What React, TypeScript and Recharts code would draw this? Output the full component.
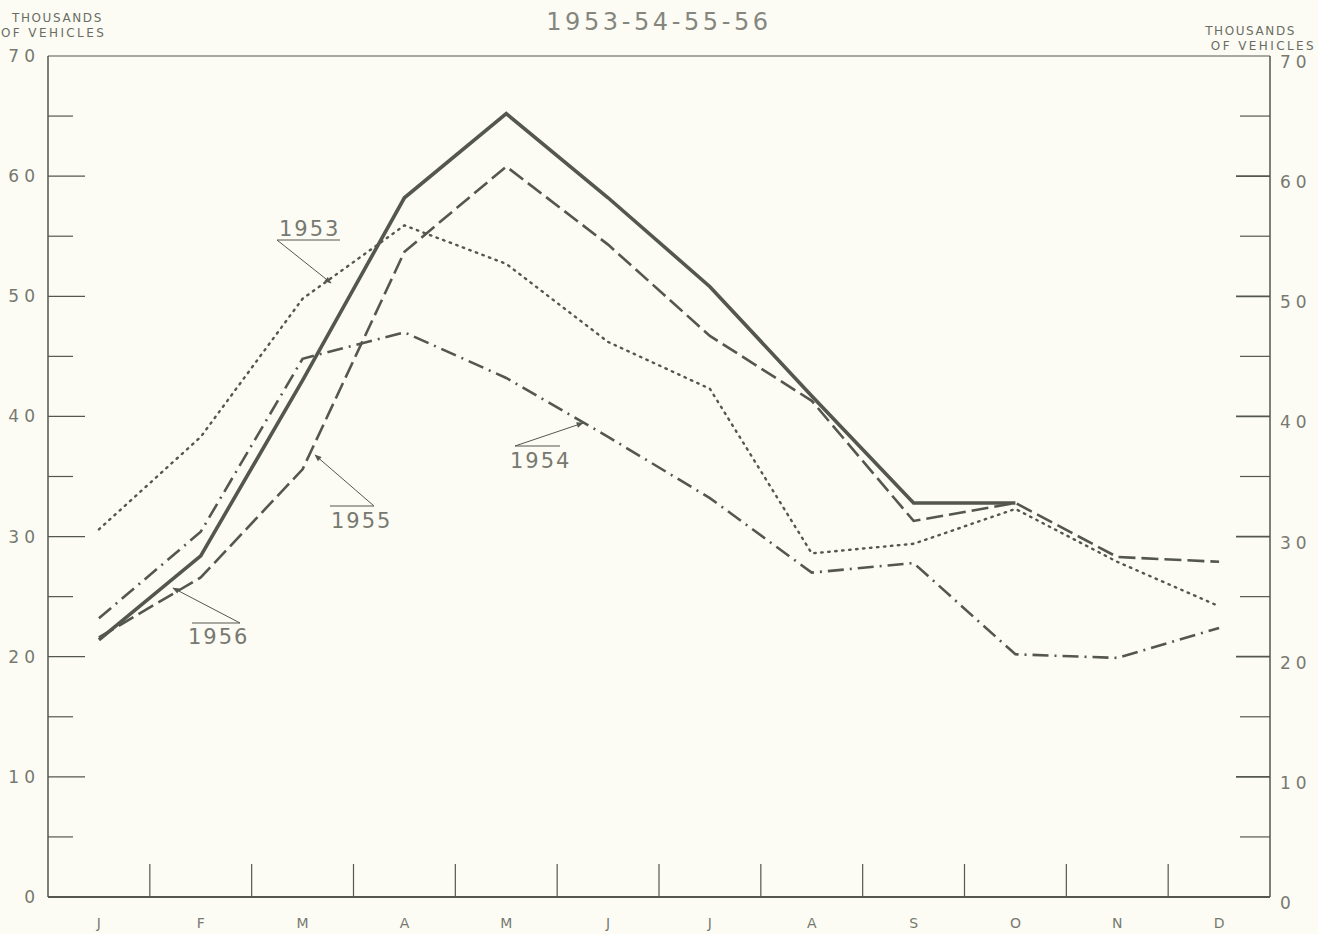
import { LineChart, Line, XAxis, YAxis, ReferenceLine } from 'recharts';

const months = ['J', 'F', 'M', 'A', 'M', 'J', 'J', 'A', 'S', 'O', 'N', 'D'];
const y1953 = [30.6, 38.3, 49.8, 55.9, 52.7, 46.2, 42.3, 28.6, 29.4, 32.3, 27.9, 24.2];
const y1954 = [23.2, 30.4, 44.8, 47.0, 43.2, 38.3, 33.2, 27.0, 27.8, 20.2, 19.9, 22.4];
const y1955 = [21.6, 26.6, 35.6, 53.7, 60.8, 54.3, 46.7, 41.3, 31.3, 32.8, 28.3, 27.9];
const y1956 = [21.4, 28.4, 43.0, 58.2, 65.2, 58.2, 50.8, 41.7, 32.8, 32.8, null, null];
const yTicks = [0, 5, 10, 15, 20, 25, 30, 35, 40, 45, 50, 55, 60, 65, 70];

const data = months.map((m, i) => ({
  m,
  y1953: y1953[i],
  y1954: y1954[i],
  y1955: y1955[i],
  y1956: y1956[i],
}));

const W = 1318;
const H = 934;
const LEFT = 48;
const RIGHT = 1270;
const TOP = 56;
const BOTTOM = 897;
const BAND = (RIGHT - LEFT) / 12;

const ink = '#54574f';
const txt = '#777971';
const font = '"DejaVu Sans", Verdana, sans-serif';

// one tick component draws both the left and the right scale (they share one scale)
const ValueTick = (props: any) => {
  const { y, payload } = props;
  const v = payload.value;
  const major = v % 10 === 0;
  const inner = v > 0 && v < 70;
  return (
    <g>
      {inner && <line x1={LEFT} x2={LEFT + (major ? 37 : 25)} y1={y} y2={y} stroke={ink} strokeWidth={1.2} />}
      {inner && <line x1={RIGHT} x2={RIGHT - (major ? 34 : 30)} y1={y} y2={y} stroke={ink} strokeWidth={major ? 1.8 : 1.2} />}
      {major && (
        <text x={LEFT - 8} y={y + 6} textAnchor="end" fontSize={17} letterSpacing={5} fill={txt} fontFamily={font}>
          {v}
        </text>
      )}
      {major && (
        <text x={RIGHT + 10} y={y + 12} textAnchor="start" fontSize={17} letterSpacing={5} fill={txt} fontFamily={font}>
          {v}
        </text>
      )}
    </g>
  );
};

const MonthTick = (props: any) => {
  const { x, payload, index } = props;
  return (
    <g>
      {index < 11 && (
        <line x1={x + BAND / 2} x2={x + BAND / 2} y1={BOTTOM} y2={BOTTOM - 33} stroke={ink} strokeWidth={1.2} />
      )}
      <text x={x} y={BOTTOM + 31} textAnchor="middle" fontSize={14} fill={txt} fontFamily={font}>
        {payload.value}
      </text>
    </g>
  );
};

const Note = ({ label, tx, ty, bar, from, to }: any) => (
  <g>
    <text x={tx} y={ty} fontSize={21} letterSpacing={2} fill={txt} fontFamily={font}>{label}</text>
    <line x1={bar[0]} x2={bar[1]} y1={bar[2]} y2={bar[2]} stroke={ink} strokeWidth={1} />
    <line x1={from[0]} y1={from[1]} x2={to[0]} y2={to[1]} stroke={ink} strokeWidth={1} markerEnd="url(#arrow)" />
  </g>
);

export default function App() {
  return (
    <div style={{ position: 'absolute', left: 0, top: 0, width: W, height: H, background: '#fcfcf4', fontFamily: font }}>
      <div style={{ position: 'absolute', left: 12, top: 11, fontSize: 12, color: '#6a6c64', lineHeight: '15px' }}>
        <div style={{ letterSpacing: 1.6 }}>THOUSANDS</div>
        <div style={{ marginLeft: -11, letterSpacing: 2.4 }}>OF VEHICLES</div>
      </div>
      <div style={{ position: 'absolute', right: 2, top: 24, fontSize: 12, color: '#6a6c64', lineHeight: '15px', textAlign: 'right' }}>
        <div style={{ marginRight: 20, letterSpacing: 1.6 }}>THOUSANDS</div>
        <div style={{ letterSpacing: 2.4 }}>OF VEHICLES</div>
      </div>
      <div style={{ position: 'absolute', left: 0, width: W, top: 8, textAlign: 'center', fontSize: 24, letterSpacing: 3.6, color: '#85877f' }}>
        1953-54-55-56
      </div>
      <div style={{ position: 'absolute', left: 0, top: 0 }}>
        <LineChart width={W} height={H} data={data} margin={{ top: TOP, left: LEFT - 1, right: W - RIGHT - 1, bottom: H - BOTTOM - 1 }}>
          <XAxis
            dataKey="m"
            allowDuplicatedCategory
            padding={{ left: BAND / 2, right: BAND / 2 }}
            axisLine={{ stroke: ink, strokeWidth: 2 }}
            tickLine={false}
            tick={<MonthTick />}
            interval={0}
            height={1}
          />
          <YAxis
            yAxisId="left"
            domain={[0, 70]}
            ticks={yTicks}
            width={1}
            axisLine={{ stroke: ink, strokeWidth: 1.5 }}
            tickLine={false}
            tick={<ValueTick />}
            interval={0}
          />
          <YAxis
            yAxisId="right"
            orientation="right"
            domain={[0, 70]}
            width={1}
            axisLine={{ stroke: ink, strokeWidth: 1.5 }}
            tickLine={false}
            tick={false}
          />
          <ReferenceLine yAxisId="left" y={70} stroke={ink} strokeWidth={1.2} />
          <Line yAxisId="left" dataKey="y1953" stroke={ink} strokeWidth={2.4} strokeDasharray="1.5 5.5" strokeLinecap="round" dot={false} isAnimationActive={false} type="linear" />
          <Line yAxisId="left" dataKey="y1954" stroke={ink} strokeWidth={2.6} strokeDasharray="16 6 2 6" dot={false} isAnimationActive={false} type="linear" />
          <Line yAxisId="left" dataKey="y1955" stroke={ink} strokeWidth={2.6} strokeDasharray="17 6" dot={false} isAnimationActive={false} type="linear" />
          <Line yAxisId="left" dataKey="y1956" stroke={ink} strokeWidth={3.6} dot={false} isAnimationActive={false} type="linear" connectNulls={false} />
        </LineChart>
      </div>
      <svg width={W} height={H} style={{ position: 'absolute', left: 0, top: 0, pointerEvents: 'none' }}>
        <defs>
          <marker id="arrow" viewBox="0 0 10 10" refX="9" refY="5" markerWidth="9" markerHeight="7" orient="auto">
            <path d="M0,1 L10,5 L0,9 z" fill={ink} />
          </marker>
        </defs>
        <Note label="1953" tx={279} ty={236} bar={[277, 340, 240]} from={[277, 240]} to={[331, 283]} />
        <Note label="1954" tx={510} ty={468} bar={[515, 560, 446]} from={[515, 446]} to={[583, 423]} />
        <Note label="1955" tx={331} ty={528} bar={[330, 374, 506]} from={[374, 506]} to={[315, 455]} />
        <Note label="1956" tx={188} ty={644} bar={[192, 240, 623]} from={[240, 623]} to={[173, 588]} />
      </svg>
    </div>
  );
}
